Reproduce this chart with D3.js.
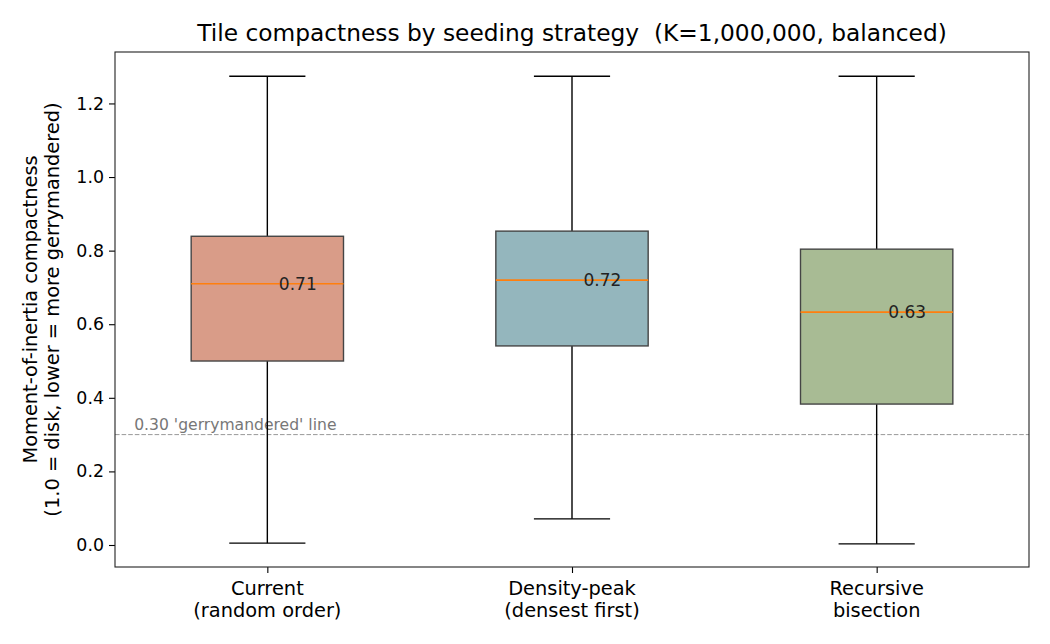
<!DOCTYPE html>
<html>
<head>
<meta charset="utf-8">
<script src="https://cdn.jsdelivr.net/npm/d3@7"></script>
<style>
  body { margin: 0; background: #fff; }
  text { font-family: "DejaVu Sans", sans-serif; }
</style>
</head>
<body>
<div id="chart"></div>
<script>
// box stats
const strategies = ["Current\n(random order)", "Density-peak\n(densest first)", "Recursive\nbisection"];
const whiskerLow = [0.005, 0.071, 0.003];
const q1 = [0.500, 0.541, 0.383];
const medians = [0.710, 0.720, 0.633];
const q3 = [0.839, 0.853, 0.804];
const whiskerHigh = [1.274, 1.274, 1.274];
const boxColors = ["#d99c88", "#94b6bd", "#a8bb94"];
const yTicks = [0.0, 0.2, 0.4, 0.6, 0.8, 1.0, 1.2];
const gerryLine = 0.30;

const width = 1050, height = 644;
const margin = {left: 115, right: 21, top: 52, bottom: 77};

const svg = d3.select("#chart")
  .append("svg")
    .attr("width", width)
    .attr("height", height);

const x = d3.scaleLinear()
  .domain([0.5, 3.5])
  .range([margin.left, width - margin.right]);

const y = d3.scaleLinear()
  .domain([-0.0598, 1.3398])
  .range([height - margin.bottom, margin.top]);

const data = strategies.map((s, i) => ({
  name: s, pos: i + 1,
  lo: whiskerLow[i], q1: q1[i], med: medians[i], q3: q3[i], hi: whiskerHigh[i],
  color: boxColors[i]
}));

// dashed reference line
svg.append("line")
  .attr("x1", x(0.5)).attr("x2", x(3.5))
  .attr("y1", y(gerryLine)).attr("y2", y(gerryLine))
  .attr("stroke", "#999").attr("stroke-width", 1)
  .attr("stroke-dasharray", "4.6,2");

svg.append("text")
  .attr("x", x(0.563)).attr("y", y(gerryLine) - 5)
  .attr("font-size", "15.6px").attr("fill", "#777")
  .text("0.30 'gerrymandered' line");

const g = svg.selectAll("g.box")
  .data(data)
  .join("g")
  .attr("class", "box");

// whiskers
g.append("line")
  .attr("x1", d => x(d.pos)).attr("x2", d => x(d.pos))
  .attr("y1", d => y(d.hi)).attr("y2", d => y(d.q3))
  .attr("stroke", "#000").attr("stroke-width", 1.4);
g.append("line")
  .attr("x1", d => x(d.pos)).attr("x2", d => x(d.pos))
  .attr("y1", d => y(d.q1)).attr("y2", d => y(d.lo))
  .attr("stroke", "#000").attr("stroke-width", 1.4);
// caps
g.selectAll("line.cap")
  .data(d => [d.lo, d.hi].map(v => ({pos: d.pos, v})))
  .join("line")
  .attr("class", "cap")
  .attr("x1", d => x(d.pos - 0.125)).attr("x2", d => x(d.pos + 0.125))
  .attr("y1", d => y(d.v)).attr("y2", d => y(d.v))
  .attr("stroke", "#000").attr("stroke-width", 1.4);

// boxes
g.append("rect")
  .attr("x", d => x(d.pos - 0.25))
  .attr("width", d => x(d.pos + 0.25) - x(d.pos - 0.25))
  .attr("y", d => y(d.q3))
  .attr("height", d => y(d.q1) - y(d.q3))
  .attr("fill", d => d.color)
  .attr("stroke", "#454545").attr("stroke-width", 1.4);

// medians
g.append("line")
  .attr("x1", d => x(d.pos - 0.25)).attr("x2", d => x(d.pos + 0.25))
  .attr("y1", d => y(d.med)).attr("y2", d => y(d.med))
  .attr("stroke", "#ff7f0e").attr("stroke-width", 1.7);

g.append("text")
  .attr("x", d => x(d.pos + 0.1))
  .attr("y", d => y(d.med))
  .attr("dy", "0.35em")
  .attr("text-anchor", "middle")
  .attr("font-size", "17px")
  .attr("fill", "#222")
  .text(d => d.med.toFixed(2));

// axes
const yAxis = svg.append("g")
  .attr("transform", `translate(${margin.left},0)`)
  .call(d3.axisLeft(y).tickValues(yTicks).tickFormat(d3.format(".1f")).tickSizeOuter(0).tickSize(6).tickPadding(5));

const xAxis = svg.append("g")
  .attr("transform", `translate(0,${height - margin.bottom})`)
  .call(d3.axisBottom(x).tickValues([1, 2, 3]).tickFormat("").tickSizeOuter(0).tickSize(6));

[yAxis, xAxis].forEach(a => {
  a.select(".domain").remove();
  a.selectAll(".tick line").attr("stroke", "#000").attr("stroke-width", 1.1);
  a.selectAll(".tick text").attr("font-size", "17.4px").attr("fill", "#000")
    .style("font-family", "DejaVu Sans, sans-serif");
});

// x tick labels (two lines)
data.forEach(d => {
  const t = svg.append("text")
    .attr("x", x(d.pos))
    .attr("y", height - margin.bottom + 28)
    .attr("text-anchor", "middle")
    .attr("font-size", "19.4px");
  d.name.split("\n").forEach((ln, i) => {
    t.append("tspan").attr("x", x(d.pos)).attr("dy", i ? "1.15em" : 0).text(ln);
  });
});

// frame
svg.append("rect")
  .attr("x", margin.left).attr("y", margin.top)
  .attr("width", width - margin.left - margin.right)
  .attr("height", height - margin.top - margin.bottom)
  .attr("fill", "none").attr("stroke", "#222").attr("stroke-width", 1.1);

// y label
const yl = svg.append("text")
  .attr("transform", `translate(37,${(margin.top + height - margin.bottom) / 2}) rotate(-90)`)
  .attr("text-anchor", "middle")
  .attr("font-size", "19.4px");
yl.append("tspan").attr("x", 0).attr("dy", 0).text("Moment-of-inertia compactness");
yl.append("tspan").attr("x", 0).attr("dy", "1.15em").text("(1.0 = disk, lower = more gerrymandered)");

// title
svg.append("text")
  .attr("x", (margin.left + width - margin.right) / 2)
  .attr("y", 41)
  .attr("text-anchor", "middle")
  .attr("font-size", "23.3px")
  .style("white-space", "pre")
  .text("Tile compactness by seeding strategy  (K=1,000,000, balanced)");
</script>
</body>
</html>
